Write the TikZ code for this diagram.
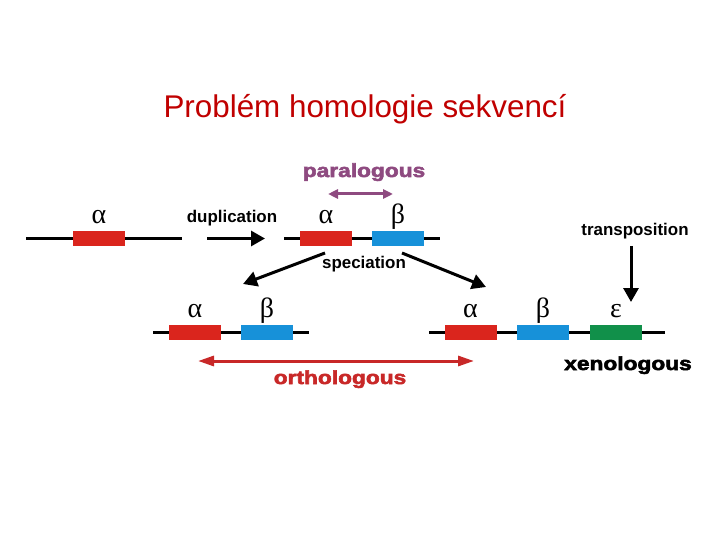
\documentclass[tikz,border=0pt]{standalone}
\usepackage{fontspec}
\setmainfont{Liberation Sans}
\newfontfamily\heavyfont[FakeStretch=1.2, FakeBold=3]{Liberation Sans Bold}
\newfontfamily\greekfont{Liberation Serif}
\usepackage{xcolor}
\usetikzlibrary{arrows.meta,positioning}
\definecolor{genered}{RGB}{218,37,29}
\definecolor{geneblue}{RGB}{23,145,217}
\definecolor{genegreen}{RGB}{17,144,74}
\definecolor{parapurple}{RGB}{142,74,128}
\definecolor{orthored}{RGB}{200,40,40}
\definecolor{titlered}{RGB}{192,0,0}

\begin{document}
\begin{tikzpicture}[x=1bp, y=-1bp,
    gene/.style={minimum width=52bp, minimum height=15bp, inner sep=0},
    greek/.style={anchor=base, inner sep=0, font=\fontsize{28}{28}\selectfont\greekfont},
    lbl/.style={anchor=base, inner sep=0, font=\fontsize{17}{17}\selectfont\bfseries},
    biglbl/.style={anchor=base, inner sep=0, font=\fontsize{19}{19}\selectfont\heavyfont},
    chrom/.style={line width=3bp},
    arr/.style={-{Triangle[length=14bp, width=15bp]}, line width=3bp}
]
\useasboundingbox (0,0) rectangle (720,540);
\node[anchor=base, font=\fontsize{31.5}{36}\selectfont, text=titlered] (title) at (365,118) {Problém homologie sekvencí};

% ancestral gene
\coordinate (c0l) at (26,238.5);
\coordinate (c0r) at (182,238.5);
\draw[chrom] (c0l) -- (c0r);
\node[gene, fill=genered] (a0) at (99,238.5) {};
\node[greek] (ga0) at ([yshift=7bp]a0.north) {α};

% duplication
\coordinate (d0) at (207,238.5);
\coordinate (d1) at (265,238.5);
\draw[arr] (d0) -- (d1);
\node[lbl] (dup) at (232,223) {duplication};

% after duplication
\coordinate (c1l) at (284,238.5);
\coordinate (c1r) at (440,238.5);
\draw[chrom] (c1l) -- (c1r);
\node[gene, fill=genered] (a1) at (326,238.5) {};
\node[gene, fill=geneblue] (b1) at (398,238.5) {};
\node[greek] (ga1) at ([yshift=7bp]a1.north) {α};
\node[greek] (gb1) at ([yshift=7bp]b1.north) {β};
\coordinate (p0) at (328,194);
\coordinate (p1) at (393,194);
\draw[{Triangle[length=10bp, width=9bp]}-{Triangle[length=10bp, width=9bp]}, line width=3bp, parapurple] (p0) -- (p1);
\node[biglbl, text=parapurple] (para) at (364,177) {paralogous};

% speciation
\node[lbl] (spec) at (364,269) {speciation};
\coordinate (s0) at (325,253);
\coordinate (s1) at (243,284);
\coordinate (s2) at (402,253);
\coordinate (s3) at (486,287);
\draw[arr] (s0) -- (s1);
\draw[arr] (s2) -- (s3);

% species 1
\coordinate (c2l) at (153,332);
\coordinate (c2r) at (309,332);
\draw[chrom] (c2l) -- (c2r);
\node[gene, fill=genered] (a2) at (195,332) {};
\node[gene, fill=geneblue] (b2) at (267,332) {};
\node[greek] (ga2) at ([yshift=7bp]a2.north) {α};
\node[greek] (gb2) at ([yshift=7bp]b2.north) {β};

% species 2
\coordinate (c3l) at (429,332);
\coordinate (c3r) at (665,332);
\draw[chrom] (c3l) -- (c3r);
\node[gene, fill=genered] (a3) at (470.5,332) {};
\node[gene, fill=geneblue] (b3) at (543,332) {};
\node[gene, fill=genegreen] (e3) at (616,332) {};
\node[greek] (ga3) at ([yshift=7bp]a3.north) {α};
\node[greek] (gb3) at ([yshift=7bp]b3.north) {β};
\node[greek] (ge3) at ([yshift=7bp]e3.north) {ε};

% transposition
\node[lbl] (trans) at (635,236) {transposition};
\coordinate (t0) at (631,246);
\coordinate (t1) at (631,302);
\draw[arr] (t0) -- (t1);
\node[biglbl] (xeno) at (628,370) {xenologous};

% orthologous
\coordinate (o0) at (198,361);
\coordinate (o1) at (474,361);
\draw[{Triangle[length=16bp, width=10bp]}-{Triangle[length=16bp, width=10bp]}, line width=3bp, orthored] (o0) -- (o1);
\node[biglbl, text=orthored] (ortho) at (340,384) {orthologous};
\end{tikzpicture}
\end{document}
